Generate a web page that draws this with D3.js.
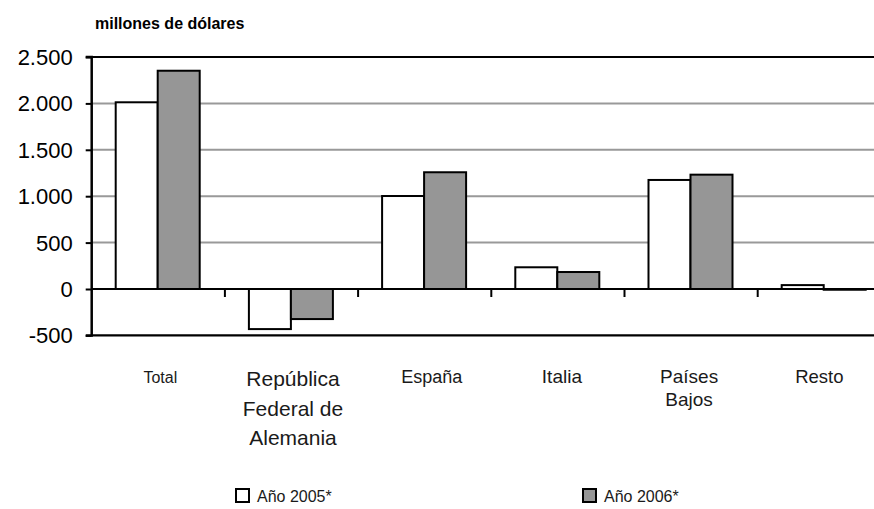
<!DOCTYPE html>
<html><head><meta charset="utf-8">
<script src="https://cdn.jsdelivr.net/npm/d3@7"></script>
<style>body{margin:0;background:#fff}svg{display:block;font-family:"Liberation Sans",Arial,sans-serif}</style>
</head><body><svg id="c" width="874" height="509"></svg>
<script>
const categories = ["Total", "República\nFederal de\nAlemania", "España", "Italia", "Países\nBajos", "Resto"];
const seriesNames = ["Año 2005*", "Año 2006*"];
const values2005 = [2012, -432, 1002, 234, 1175, 42];
const values2006 = [2352, -324, 1258, 183, 1232, -8];
const yTicks = [-500, 0, 500, 1000, 1500, 2000, 2500];
const yTickLabels = ["-500", "0", "500", "1.000", "1.500", "2.000", "2.500"];
const colors = ["#ffffff", "#969696"];

(function () {
const svg = d3.select("#c");
const pLeft = 91.7, pTop = 57, pBottom = 335.4, step = 133.2;
const pRight = pLeft + step * categories.length;
const y = d3.scaleLinear().domain([-500, 2500]).range([pBottom, pTop]);
const x0 = d3.scaleBand().domain(categories).range([pLeft, pRight]).padding(0);
const x1 = d3.scaleBand().domain(seriesNames).range([24, 108]).padding(0);

// gridlines
svg.append("g").selectAll("line").data(yTicks).join("line")
  .attr("x1", pLeft).attr("x2", 874)
  .attr("y1", d => y(d)).attr("y2", d => y(d))
  .attr("stroke", d => (d === 2500 || d === -500) ? "#000" : "#999")
  .attr("stroke-width", d => (d === 2500 || d === -500) ? 2.2 : 2);

// bars
const data = categories.map((c, i) => ({c, vals: [values2005[i], values2006[i]]}));
const g = svg.append("g");
data.forEach(d => {
  d.vals.forEach((v, j) => {
    g.append("rect")
      .attr("x", x0(d.c) + x1(seriesNames[j]))
      .attr("width", x1.bandwidth())
      .attr("y", y(Math.max(0, v)))
      .attr("height", Math.abs(y(v) - y(0)))
      .attr("fill", colors[j]).attr("stroke", "#000").attr("stroke-width", 2);
  });
});

// zero line
svg.append("line").attr("x1", pLeft).attr("x2", 874).attr("y1", y(0)).attr("y2", y(0))
  .attr("stroke", "#000").attr("stroke-width", 2.2);

// category ticks
svg.append("g").selectAll("line").data(categories.slice(1)).join("line")
  .attr("x1", d => x0(d)).attr("x2", d => x0(d))
  .attr("y1", y(0)).attr("y2", y(0) + 8)
  .attr("stroke", "#000").attr("stroke-width", 2);

// y axis
const yAxis = d3.axisLeft(y).tickValues(yTicks).tickFormat((d, i) => yTickLabels[i]).tickSize(6).tickPadding(13);
const ga = svg.append("g").attr("transform", `translate(${pLeft},0)`).call(yAxis);
ga.select(".domain").attr("stroke", "#000").attr("stroke-width", 2.5).attr("d", `M-6,${pTop}H0V${pBottom}H-6`);
ga.selectAll(".tick line").attr("stroke", "#000").attr("stroke-width", 2);
ga.selectAll(".tick text").attr("font-size", 22).attr("fill", "#000")
  .attr("font-family", "Liberation Sans, Arial, sans-serif").attr("dy", "0.34em");

// category labels (layout per label box)
const labelSizes = [16, 21, 18, 19, 19, 18.5];
const lineH = [24, 29.5, 24, 24, 22.5, 24];
const labelDx = [2, 1.5, 7, 4, -2, -5];
const labelY = [383, 386, 383, 383, 383, 383];
categories.forEach((c, i) => {
  const t = svg.append("text").attr("text-anchor", "middle")
    .attr("font-size", labelSizes[i]).attr("fill", "#1a1a1a");
  c.split("\n").forEach((ln, k) => {
    t.append("tspan").attr("x", x0(c) + step / 2 + labelDx[i]).attr("y", labelY[i] + k * lineH[i]).text(ln);
  });
});

// title
svg.append("text").attr("x", 95).attr("y", 29).attr("font-size", 16).attr("font-weight", "bold").text("millones de dólares");

// legend
const legX = [236, 583];
seriesNames.forEach((s, j) => {
  svg.append("rect").attr("x", legX[j]).attr("y", 489).attr("width", 13).attr("height", 13)
    .attr("fill", colors[j]).attr("stroke", "#000").attr("stroke-width", 2);
  svg.append("text").attr("x", legX[j] + 21).attr("y", 502).attr("font-size", 16).attr("fill", "#1a1a1a").text(s);
});
})();
</script></body></html>
